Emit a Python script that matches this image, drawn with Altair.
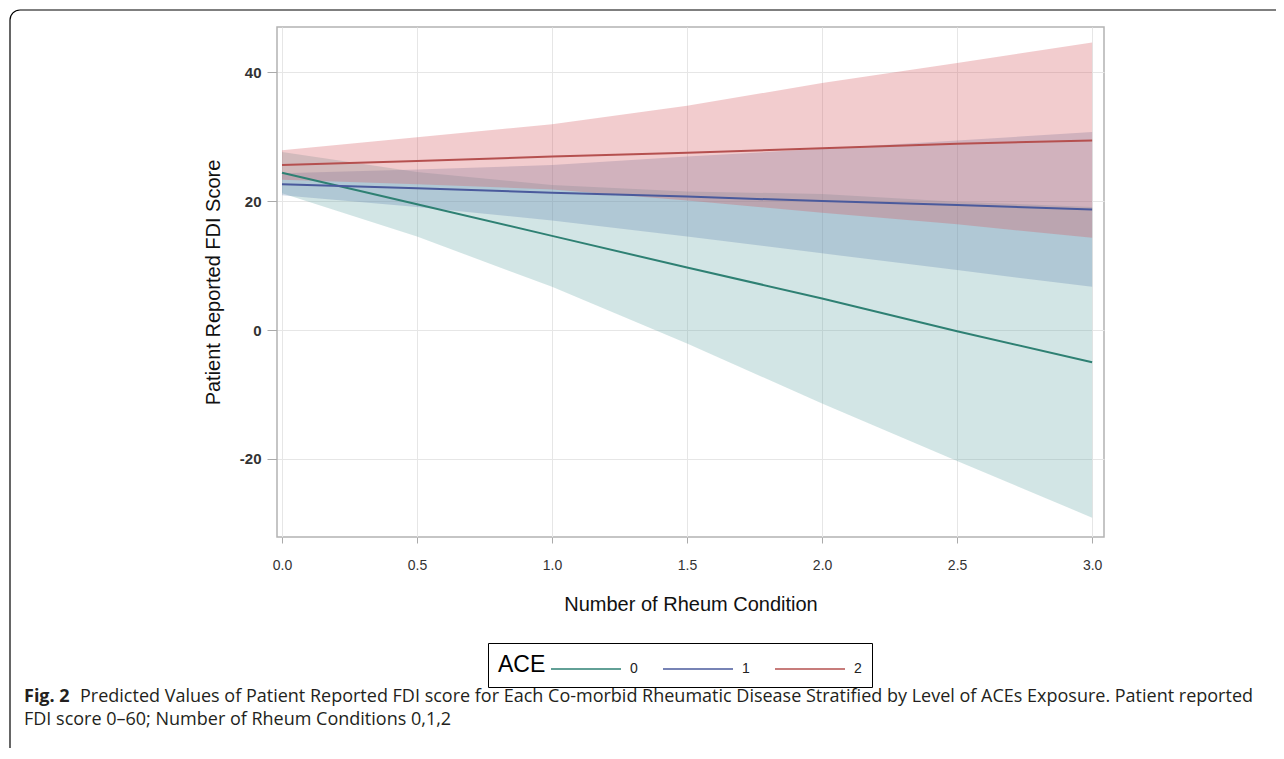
import altair as alt
import pandas as pd

# x positions (Number of Rheum Condition)
x_vals = [0.0, 0.5, 1.0, 1.5, 2.0, 2.5, 3.0]

# ACE 0 (teal)
ace0_pred = [24.4, 19.5, 14.6, 9.7, 4.9, -0.2, -5.0]
ace0_lower = [21.2, 14.5, 6.7, -2.1, -11.4, -20.3, -29.1]
ace0_upper = [27.6, 24.5, 22.5, 21.5, 21.1, 19.9, 19.1]

# ACE 1 (blue)
ace1_pred = [22.6, 22.0, 21.3, 20.7, 20.0, 19.4, 18.7]
ace1_lower = [20.9, 19.1, 17.0, 14.5, 11.9, 9.3, 6.7]
ace1_upper = [24.3, 24.9, 25.6, 26.9, 28.1, 29.4, 30.7]

# ACE 2 (red)
ace2_pred = [25.6, 26.2, 26.9, 27.5, 28.2, 28.9, 29.4]
ace2_lower = [23.3, 22.6, 21.8, 20.1, 18.2, 16.4, 14.3]
ace2_upper = [27.9, 29.9, 31.9, 34.8, 38.3, 41.4, 44.6]

groups = ["0", "1", "2"]
line_colors = ["#2e8073", "#4a5a9c", "#b5504f"]
fill_colors = ["#6aa9a8", "#6384af", "#d4575c"]

caption_bold = "Fig. 2"
caption_line1 = ("Predicted Values of Patient Reported FDI score for Each Co-morbid Rheumatic "
                 "Disease Stratified by Level of ACEs Exposure. Patient reported")
caption_line2 = "FDI score 0\u201360; Number of Rheum Conditions 0,1,2"

rows = []
for g, pred, lo, hi in [("0", ace0_pred, ace0_lower, ace0_upper),
                        ("1", ace1_pred, ace1_lower, ace1_upper),
                        ("2", ace2_pred, ace2_lower, ace2_upper)]:
    for xv, p, l, h in zip(x_vals, pred, lo, hi):
        rows.append({"x": xv, "ACE": g, "pred": p, "lower": l, "upper": h})
df = pd.DataFrame(rows)

W, H = 827, 510
xscale = alt.Scale(domain=[-0.0185, 3.044], nice=False, zero=False)
yscale = alt.Scale(domain=[-32.1, 47.0], nice=False, zero=False)

xaxis = alt.Axis(values=[0, 0.5, 1, 1.5, 2, 2.5, 3], format=".1f",
                 title="Number of Rheum Condition", labelFontSize=14,
                 labelPadding=15, tickSize=6, titlePadding=22, titleFontSize=20)
yaxis = alt.Axis(values=[-20, 0, 20, 40], labelExpr="'' + datum.value",
                 title="Patient Reported FDI Score", labelFontSize=15,
                 labelFontWeight="bold", tickSize=10, labelPadding=6,
                 titlePadding=16, titleFontSize=20)

base = alt.Chart(df)

band_layers = []
for g, fc in zip(groups, fill_colors):
    band_layers.append(
        base.transform_filter(alt.datum.ACE == g).mark_area(
            fill=fc, fillOpacity=0.3, stroke=None
        ).encode(
            x=alt.X("x:Q", scale=xscale, axis=xaxis),
            y=alt.Y("lower:Q", scale=yscale, axis=yaxis),
            y2="upper:Q",
        )
    )

lines = base.mark_line(strokeWidth=2).encode(
    x=alt.X("x:Q", scale=xscale),
    y=alt.Y("pred:Q", scale=yscale),
    color=alt.Color("ACE:N", scale=alt.Scale(domain=groups, range=line_colors),
                    legend=alt.Legend(title="ACE", orient="none", legendX=211, legendY=616,
                                      direction="horizontal", titleOrient="left",
                                      titleFontSize=23, titleFontWeight="normal",
                                      titleColor="black", titlePadding=52,
                                      titleBaseline="middle", titleAnchor="middle",
                                      labelFontSize=14, labelColor="#222",
                                      symbolType="M-4.2,0H0.467", symbolSize=900,
                                      symbolStrokeWidth=1.5, labelOffset=0,
                                      columnPadding=22, strokeColor="black",
                                      padding=10)),
)

one = alt.Data(values=[{"k": 1}])

frame = alt.Chart(one).mark_rect(filled=False, stroke="black", strokeWidth=1.2,
                                 cornerRadius=10).encode(
    x=alt.value(-267), x2=alt.value(1100), y=alt.value(-17), y2=alt.value(760))

cap_bold = alt.Chart(one).mark_text(text=caption_bold, align="left", baseline="middle",
                                    font="Open Sans", fontSize=18, fontWeight="bold",
                                    color="#231f20").encode(
    x=alt.value(-253), y=alt.value(670))
cap1 = alt.Chart(one).mark_text(text=caption_line1, align="left", baseline="middle",
                                font="Open Sans", fontSize=18, color="#231f20").encode(
    x=alt.value(-197), y=alt.value(670))
cap2 = alt.Chart(one).mark_text(text=caption_line2, align="left", baseline="middle",
                                font="Open Sans", fontSize=18, color="#231f20").encode(
    x=alt.value(-253), y=alt.value(693))

chart = alt.layer(*band_layers, lines, frame, cap_bold, cap1, cap2).properties(
    width=W, height=H,
    autosize=alt.AutoSizeParams(type="none"),
    padding={"left": 269, "top": 19, "right": 172, "bottom": 211},
).configure_view(
    stroke="#b3b3b3", strokeWidth=1.5
).configure_axis(
    labelFont="Liberation Sans", titleFont="Liberation Sans",
    labelColor="#333", titleColor="#111", titleFontWeight="normal",
    gridColor="#e6e6e6", gridWidth=1, tickColor="#aaa", domain=False,
).configure_legend(
    labelFont="Liberation Sans", titleFont="Liberation Sans"
)

chart.save("out.html", embed_options={"renderer": "svg", "actions": False})
